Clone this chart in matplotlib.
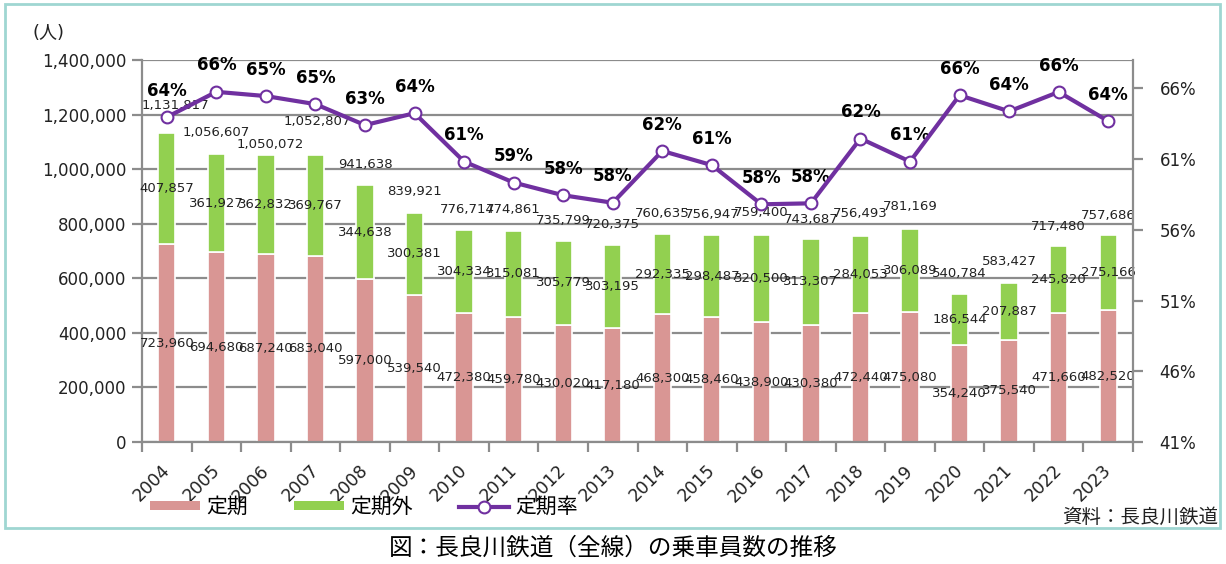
import matplotlib.pyplot as plt
from matplotlib.patches import Patch, Rectangle
from matplotlib.lines import Line2D
from matplotlib.ticker import FuncFormatter, MultipleLocator

plt.rcParams['font.family'] = ['DejaVu Sans', 'Noto Sans CJK JP']

years = ['2004', '2005', '2006', '2007', '2008', '2009', '2010', '2011', '2012', '2013',
         '2014', '2015', '2016', '2017', '2018', '2019', '2020', '2021', '2022', '2023']
teiki = [723960, 694680, 687240, 683040, 597000, 539540, 472380, 459780, 430020, 417180,
         468300, 458460, 438900, 430380, 472440, 475080, 354240, 375540, 471660, 482520]
teikigai = [407857, 361927, 362832, 369767, 344638, 300381, 304334, 315081, 305779, 303195,
            292335, 298487, 320500, 313307, 284053, 306089, 186544, 207887, 245820, 275166]
total = [1131817, 1056607, 1050072, 1052807, 941638, 839921, 776714, 774861, 735799, 720375,
         760635, 756947, 759400, 743687, 756493, 781169, 540784, 583427, 717480, 757686]
rate = [63.96, 65.75, 65.45, 64.88, 63.40, 64.24, 60.82, 59.34, 58.44, 57.91,
        61.57, 60.57, 57.80, 57.87, 62.45, 60.82, 65.51, 64.37, 65.74, 63.68]
rate_labels = ['64%', '66%', '65%', '65%', '63%', '64%', '61%', '59%', '58%', '58%',
               '62%', '61%', '58%', '58%', '62%', '61%', '66%', '64%', '66%', '64%']

# label nudges (points) for the totals, as placed by hand in the original
tot_dy = [20, 15, 8, 24, 15, 15, 15, 15, 15, 15, 15, 15, 16, 14, 16, 16, 15, 15, 14, 14]
tot_dx = [6, 0, 3, 1, 0, 0, 2, 0, 0, 0, 0, 0, 0, 0, 0, 0, 0, 0, 0, 0]

pink = '#D99694'
green = '#92D050'
purple = '#7030A0'
grid_c = '#8C8C8C'

fig = plt.figure(figsize=(12.26, 5.64), dpi=100)
ax = fig.add_axes([142 / 1226, 1 - 442 / 564, 991 / 1226, 382 / 564])
x = list(range(len(years)))

ax.bar(x, teiki, width=0.35, color=pink, edgecolor='white', linewidth=1.2, zorder=2)
ax.bar(x, teikigai, width=0.35, bottom=teiki, color=green, edgecolor='white', linewidth=1.2, zorder=2)

ax.set_xlim(-0.5, len(years) - 0.5)
ax.set_ylim(0, 1400000)
ax.yaxis.set_major_locator(MultipleLocator(200000))
ax.yaxis.set_major_formatter(FuncFormatter(lambda v, p: f'{int(v):,}'))
ax.grid(axis='y', color=grid_c, linewidth=1.6)
ax.set_axisbelow(True)
for s in ['top', 'right']:
    ax.spines[s].set_visible(False)
for s in ['left', 'bottom']:
    ax.spines[s].set_color(grid_c)
    ax.spines[s].set_linewidth(1.6)
ax.tick_params(axis='y', length=7, width=1.6, color=grid_c, labelsize=12, labelcolor='#222222', pad=4)

ax.set_xticks([i - 0.5 for i in range(len(years) + 1)])
ax.set_xticklabels([])
ax.tick_params(axis='x', length=7, width=1.6, color=grid_c)
for i, y in enumerate(years):
    ax.annotate(y, (i, 0), xytext=(5, -14), textcoords='offset points',
                rotation=45, ha='right', va='top', fontsize=12.5, color='#222222')

for i in x:
    ax.text(i, teiki[i] / 2, f'{teiki[i]:,}', ha='center', va='center', fontsize=9.5, color='#222222', zorder=3)
    ax.text(i, teiki[i] + teikigai[i] / 2, f'{teikigai[i]:,}', ha='center', va='center',
            fontsize=9.5, color='#222222', zorder=3)
    ax.annotate(f'{total[i]:,}', (i, total[i]), xytext=(tot_dx[i], tot_dy[i]), textcoords='offset points',
                ha='center', va='center', fontsize=9.5, color='#222222', zorder=3)

ax2 = ax.twinx()
ax2.set_ylim(41, 68)
ax2.set_yticks([41, 46, 51, 56, 61, 66])
ax2.yaxis.set_major_formatter(FuncFormatter(lambda v, p: f'{int(v)}%'))
ax2.plot(x, rate, color=purple, linewidth=3, marker='o', markersize=8.5,
         markerfacecolor='white', markeredgecolor=purple, markeredgewidth=1.5, zorder=4)
for s in ['top', 'left', 'bottom']:
    ax2.spines[s].set_visible(False)
ax2.spines['right'].set_color(grid_c)
ax2.spines['right'].set_linewidth(1.6)
ax2.tick_params(axis='y', length=7, width=1.6, color=grid_c, labelsize=12, labelcolor='#222222', pad=12)
for i in x:
    ax2.annotate(rate_labels[i], (i, rate[i]), xytext=(0, 19), textcoords='offset points',
                 ha='center', va='center', fontsize=12, fontweight='bold', color='black')

fig.text(32 / 1226, 1 - 33 / 564, '(人)', fontsize=13, ha='left', va='center', color='#222222')

handles = [Patch(facecolor=pink, edgecolor='none'), Patch(facecolor=green, edgecolor='none'),
           Line2D([], [], color=purple, linewidth=3, marker='o', markersize=8.5,
                  markerfacecolor='white', markeredgecolor=purple, markeredgewidth=1.5)]
fig.legend(handles, ['定期', '定期外', '定期率'], loc='center left', bbox_to_anchor=(150 / 1226, 1 - 507 / 564),
           ncol=3, frameon=False, handlelength=2.4, handleheight=0.35,
           handletextpad=0.3, columnspacing=2.2, borderpad=0, borderaxespad=0,
           prop={'family': ['Noto Sans CJK JP'], 'size': 15})

fig.text(1218 / 1226, 1 - 517 / 564, '資料：長良川鉄道', fontsize=14, ha='right', va='center',
         family=['Noto Sans CJK JP'], color='#222222')
fig.text(0.5, 1 - 548 / 564, '図：長良川鉄道（全線）の乗車員数の推移', fontsize=17, ha='center', va='center',
         family=['Noto Sans CJK JP'], color='black')

fig.patches.append(Rectangle((5 / 1226, 1 - 528 / 564), 1215 / 1226, 524 / 564, transform=fig.transFigure,
                             fill=False, edgecolor='#9FD6D2', linewidth=2))

fig.savefig('out.png', dpi=100)
